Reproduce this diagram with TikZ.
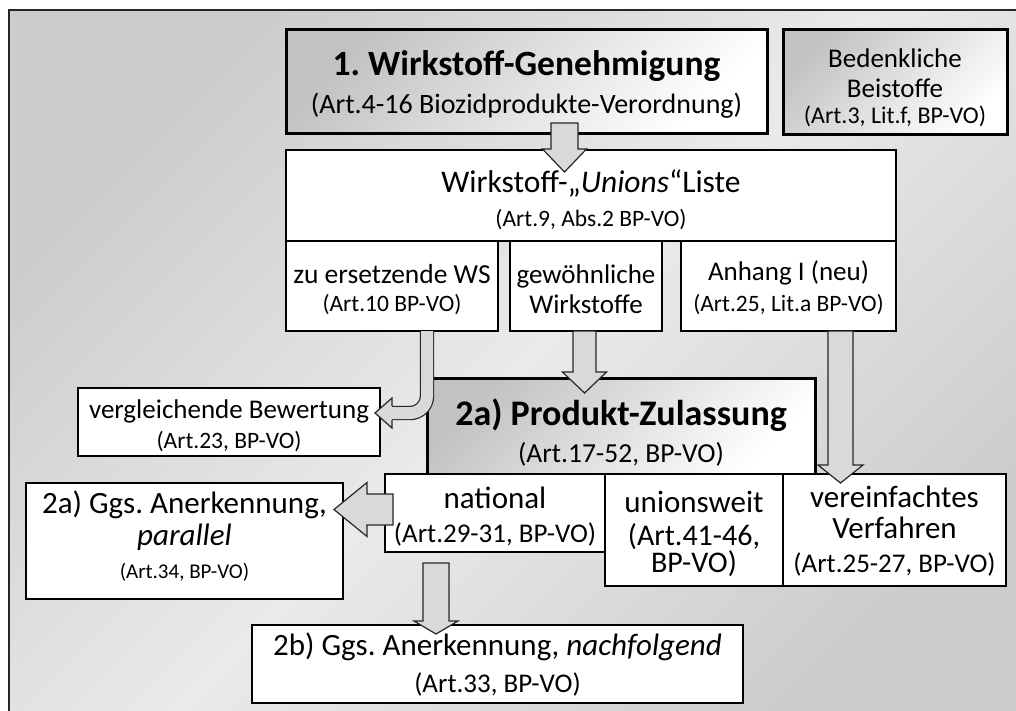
\documentclass[tikz,border=0pt]{standalone}
\usepackage{fontspec}
\setmainfont{Carlito}
\frenchspacing
\usetikzlibrary{calc}
\definecolor{frame}{RGB}{38,38,38}
\definecolor{bgdark}{RGB}{204,204,204}
\definecolor{bglight}{RGB}{234,234,234}
\definecolor{arrowgray}{RGB}{217,217,217}
\newcommand{\reffont}{\fontsize{23.5}{23}\selectfont}
\newcommand{\headfont}{\bfseries\fontsize{35.5}{35}\selectfont}
\tikzset{
  box/.style={draw=black,line width=1.6pt,fill=white,align=center,inner sep=0pt,outer sep=0pt,
    anchor=north west,font=\fontsize{27}{30}\selectfont},
  big/.style={font=\fontsize{31}{30}\selectfont},
  main box/.style={box,line width=3pt,top color=black!24,bottom color=white,shading angle=45},
  lastline/.style={text depth=0pt,text height=#1pt},
  fat arrow/.style={draw=black!85,line width=1.2pt,fill=arrowgray,line join=miter},
}
% block arrows: start, tip, shaft half width, head half width, head length
\newcommand{\arrowdown}[5]{%
  \path[fat arrow] let \p1=(#1), \p2=(#2) in
    (\x1-#3pt,\y1) -- (\x1-#3pt,\y2+#5pt) -- (\x1-#4pt,\y2+#5pt) -- (\x1,\y2)
    -- (\x1+#4pt,\y2+#5pt) -- (\x1+#3pt,\y2+#5pt) -- (\x1+#3pt,\y1) -- cycle;}
\newcommand{\arrowleft}[5]{%
  \path[fat arrow] let \p1=(#1), \p2=(#2) in
    (\x1,\y1-#3pt) -- (\x2+#5pt,\y1-#3pt) -- (\x2+#5pt,\y1-#4pt) -- (\x2,\y1)
    -- (\x2+#5pt,\y1+#4pt) -- (\x2+#5pt,\y1+#3pt) -- (\x1,\y1+#3pt) -- cycle;}

\begin{document}
\begin{tikzpicture}[x=1pt,y=-1pt]
  \useasboundingbox (0,0) rectangle (1016,710);
  \clip (0,0) rectangle (1016,710);
  \path[draw=frame,line width=2pt,top color=bgdark,bottom color=bgdark,middle color=bglight,
    shading angle=45] (9,10) rectangle (1030,725);

  % Wirkstoffe
  \node[main box,lastline=64,minimum width=481pt,minimum height=104pt] (gen) at (286,29)
    {{\headfont 1. Wirkstoff-Genehmigung}\\[8pt]{\fontsize{28}{30}\selectfont (Art.4-16 Biozidprodukte-Verordnung)}};
  \node[main box,lastline=83,minimum width=224pt,minimum height=105pt] (beistoffe) at (783,29)
    {Bedenkliche\\Beistoffe\\[-4pt]{\fontsize{24}{23}\selectfont (Art.3, Lit.f, BP-VO)}};
  \node[box,lastline=61,minimum width=610pt,minimum height=91pt] (liste) at (286,150)
    {{\fontsize{31.5}{30}\selectfont Wirkstoff-„\textit{Unions}“Liste}\\[4pt]{\reffont (Art.9, Abs.2 BP-VO)}};
  \node[box,lastline=50,minimum width=212pt,minimum height=90pt] (ersetzen) at (286,241)
    {{\fontsize{27.5}{30}\selectfont zu ersetzende WS}\\[-2pt]{\reffont (Art.10 BP-VO)}};
  \node[box,lastline=54,minimum width=152pt,minimum height=90pt] (gewoehnlich) at (510,241)
    {gewöhnliche\\Wirkstoffe};
  \node[box,lastline=50,minimum width=215pt,minimum height=90pt] (anhang) at (681,241)
    {Anhang I (neu)\\[1pt]{\reffont (Art.25, Lit.a BP-VO)}};

  % Produkte
  \node[box,lastline=52,minimum width=302pt,minimum height=68pt] (vergleich) at (78,388)
    {vergleichende Bewertung\\{\reffont (Art.23, BP-VO)}};
  \node[main box,lastline=72,minimum width=388pt,minimum height=96pt] (produkt) at (427,378)
    {{\bfseries\fontsize{36}{35}\selectfont 2a) Produkt-Zulassung}\\[7pt]{\fontsize{27.5}{30}\selectfont (Art.17-52, BP-VO)}};
  \node[box,big,lastline=58,minimum width=220pt,minimum height=78pt] (national) at (385,474)
    {national\\[4pt]{\fontsize{27}{30}\selectfont (Art.29-31, BP-VO)}};
  \node[box,big,lastline=84,minimum width=178pt,minimum height=112pt] (unionsweit) at (605,474)
    {unionsweit\\[3pt]{\fontsize{30}{30}\selectfont (Art.41-46,}\\[-3pt]{\fontsize{30}{30}\selectfont BP-VO)}};
  \node[box,big,lastline=84,minimum width=223pt,minimum height=112pt] (vereinfacht) at (783,474)
    {vereinfachtes\\[1pt]Verfahren\\[4pt]{\fontsize{27}{30}\selectfont (Art.25-27, BP-VO)}};
  \node[box,big,lastline=74,minimum width=317pt,minimum height=116pt] (parallel) at (26,483)
    {2a) Ggs. Anerkennung,\\[2pt]\textit{parallel}\\[3pt]{\fontsize{21}{21}\selectfont (Art.34, BP-VO)}};
  \node[box,big,lastline=56,minimum width=491pt,minimum height=78pt] (nachfolgend) at (252,625)
    {2b) Ggs. Anerkennung, \textit{nachfolgend}\\[7pt]{\fontsize{27}{30}\selectfont (Art.33, BP-VO)}};

  % Pfeile
  \arrowdown{$(gen.south)+(38,-10)$}{$(liste.north)+(0,22)$}{13.5}{22}{23}
  \arrowdown{$(gewoehnlich.south)+(-1.5,0)$}{$(produkt.north)+(0,15)$}{11.5}{22}{21}
  \arrowdown{$(anhang.south)+(52,0)$}{$(vereinfacht.north)+(0,9)$}{12.5}{22.5}{18}
  \arrowdown{$(national.south)+(-59,11)$}{$(nachfolgend.north)+(0,9)$}{13}{22}{13}
  \arrowleft{$(national.west)+(8,-3.5)$}{$(parallel.east)+(-9,0)$}{15.5}{27}{33}

  \coordinate (bendtip) at ($(vergleich.east)+(-5,-9)$);
  \draw[draw=black!85,line width=1.2pt,double=arrowgray,double distance=12pt,rounded corners=17pt]
    ($(ersetzen.south)+(35,0)$) |- ($(bendtip)+(16,0)$);
  \fill[arrowgray] ($(bendtip)+(17,-15)$) -- (bendtip) -- ($(bendtip)+(17,15)$) -- cycle;
  \draw[draw=black!85,line width=1.2pt,line join=miter] ($(bendtip)+(17,-7)$) -- ($(bendtip)+(17,-15)$)
    -- (bendtip) -- ($(bendtip)+(17,15)$) -- ($(bendtip)+(17,7)$);
\end{tikzpicture}
\end{document}
